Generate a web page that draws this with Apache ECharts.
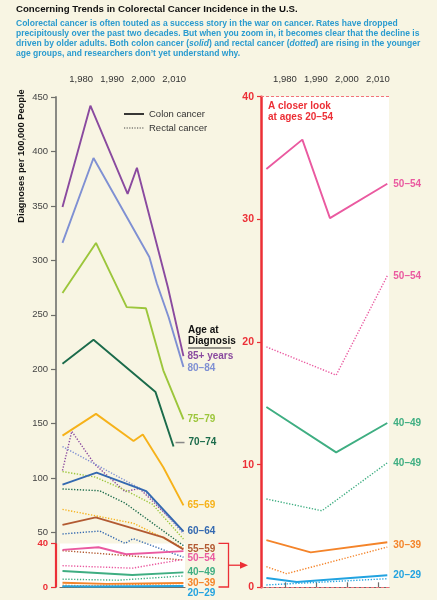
<!DOCTYPE html>
<html><head><meta charset="utf-8">
<script src="https://cdn.jsdelivr.net/npm/echarts@6/dist/echarts.min.js"></script>
<style>html,body{margin:0;padding:0;background:#f8f5e3;}#c{width:437px;height:600px;}</style>
</head><body><div id="c"></div>
<script>
// ---------- DATA ----------
const xTickYears = [1980, 1990, 2000, 2010];
const leftTickValues = [50, 100, 150, 200, 250, 300, 350, 400, 450];
const leftRedTicks = [0, 40];

// Colon cancer (solid)
const colonYears85 = [1974, 1983, 1995, 1998, 2008, 2013];
const colonRates85 = [349, 442, 361, 385, 275, 212];
const colonYears80 = [1974, 1984, 2002, 2004.4, 2008.2, 2013];
const colonRates80 = [316, 394, 303, 279, 248, 202];
const colonYears75 = [1974, 1984.8, 1994.7, 2000.9, 2006.5, 2013];
const colonRates75 = [270, 316, 257, 256, 199, 154];
const colonYears70 = [1974, 1984, 2004, 2009.8];
const colonRates70 = [205, 227, 179, 129];
const colonYears65 = [1974, 1984.8, 1996.9, 1999.9, 2006.5, 2013];
const colonRates65 = [139, 159, 134, 140, 110, 75];
const colonYears60 = [1974, 1985, 2001, 2013];
const colonRates60 = [94, 105, 88, 51];
const colonYears55 = [1974, 1984.7, 2006.5, 2013];
const colonRates55 = [57, 64, 45.6, 34.6];
const colonYears50 = [1974, 1985.6, 1994.5, 2013];
const colonRates50 = [34.1, 36.5, 30.1, 32.9];
const colonYears40 = [1974, 1996.5, 2013];
const colonRates40 = [14.7, 11.0, 13.4];
const colonYears30 = [1974, 1988.3, 2013];
const colonRates30 = [3.85, 2.85, 3.67];
const colonYears20 = [1974, 1983.8, 2013];
const colonRates20 = [0.76, 0.43, 0.98];

// Rectal cancer (dotted)
const rectalYears85 = [1974, 1977, 1984.3, 1994.2, 1998.8, 2013];
const rectalRates85 = [107, 143, 113, 87.5, 90.6, 51];
const rectalYears80 = [1974, 2000.6, 2013];
const rectalRates80 = [129, 88, 49];
const rectalYears75 = [1974, 1984.5, 1994.2, 2003, 2013];
const rectalRates75 = [106, 101, 89, 76, 44];
const rectalYears70 = [1974, 1986, 1994.2, 2013];
const rectalRates70 = [90, 88.4, 77, 38];
const rectalYears65 = [1974, 1984.5, 1996.9, 2013];
const rectalRates65 = [71.3, 65.5, 58.5, 36];
const rectalYears60 = [1974, 1986, 1994.2, 1996.8, 2013];
const rectalRates60 = [48.7, 51.4, 40.1, 44.4, 27.3];
const rectalYears55 = [1974, 2013];
const rectalRates55 = [33.4, 24.8];
const rectalYears50 = [1974, 1996.5, 2013];
const rectalRates50 = [19.6, 17.3, 25.4];
const rectalYears40 = [1974, 1991.9, 2013];
const rectalRates40 = [7.2, 6.24, 10.15];
const rectalYears30 = [1974, 1980.5, 2013];
const rectalRates30 = [1.68, 1.11, 3.28];
const rectalYears20 = [1974, 2013];
const rectalRates20 = [0.19, 0.7];

// ---------- STYLE ----------
const FONT = 'Liberation Sans, Arial, sans-serif';
const RED = '#ec2f36';
const C = {
  g85: '#8a4a9f', g80: '#7f90d3', g75: '#9cc63b', g70: '#1b6b4b', g65: '#f6b21a',
  g60: '#3469b0', g55: '#b25a32', g50: '#ea5aa0', g40: '#3fae82', g30: '#f4842a', g20: '#22a3e0'
};

function pts(xs, ys) { return xs.map((x, i) => [x, ys[i]]); }
function ln(xs, ys, color, dotted, gi, label) {
  const s = {
    type: 'line', xAxisIndex: gi === 0 ? 0 : 1, yAxisIndex: gi === 0 ? 0 : 2,
    data: pts(xs, ys), symbol: 'none', silent: true, z: dotted ? 3 : 4,
    lineStyle: { color: color, width: dotted ? 1.4 : 1.9, type: dotted ? [1.3, 1.6] : 'solid' }
  };
  if (label) {
    s.endLabel = {
      show: true, formatter: label.text, color: color, fontFamily: FONT, fontWeight: 'bold',
      fontSize: 10, distance: gi === 0 ? 4 : 6, offset: label.offset || [0, 0]
    };
  }
  return s;
}

const series = [
  {
    type: 'line', xAxisIndex: 0, yAxisIndex: 0, data: [], z: 1, silent: true,
    markArea: { silent: true, itemStyle: { color: '#ffffff' }, data: [[{ coord: [1973.2, 0] }, { coord: [2013.5, 40] }]] },
    markLine: {
      silent: true, symbol: 'none', label: { show: false },
      lineStyle: { color: '#f2737a', type: [3, 2], width: 1 },
      data: [[{ coord: [1973.2, 40] }, { coord: [2014, 40] }], [{ coord: [1973.2, 0] }, { coord: [2014, 0] }]]
    }
  },
  {
    type: 'line', xAxisIndex: 1, yAxisIndex: 2, data: [], z: 1, silent: true,
    markLine: {
      silent: true, symbol: 'none', label: { show: false },
      lineStyle: { color: '#f2737a', type: [3, 2], width: 1 },
      data: [{ yAxis: 40 }, { yAxis: 0 }]
    }
  },
  ln(rectalYears85, rectalRates85, C.g85, true, 0),
  ln(rectalYears80, rectalRates80, C.g80, true, 0),
  ln(rectalYears75, rectalRates75, C.g75, true, 0),
  ln(rectalYears70, rectalRates70, C.g70, true, 0),
  ln(rectalYears65, rectalRates65, C.g65, true, 0),
  ln(rectalYears60, rectalRates60, C.g60, true, 0),
  ln(rectalYears55, rectalRates55, C.g55, true, 0),
  ln(rectalYears50, rectalRates50, C.g50, true, 0),
  ln(rectalYears40, rectalRates40, C.g40, true, 0),
  ln(rectalYears30, rectalRates30, C.g30, true, 0),
  ln(rectalYears20, rectalRates20, C.g20, true, 0),
  ln(colonYears85, colonRates85, C.g85, false, 0, { text: '85+ years' }),
  ln(colonYears80, colonRates80, C.g80, false, 0, { text: '80–84', offset: [0, 1] }),
  ln(colonYears75, colonRates75, C.g75, false, 0, { text: '75–79' }),
  ln(colonYears70, colonRates70, C.g70, false, 0, { text: '70–74', offset: [11, -4] }),
  ln(colonYears65, colonRates65, C.g65, false, 0, { text: '65–69' }),
  ln(colonYears60, colonRates60, C.g60, false, 0, { text: '60–64' }),
  ln(colonYears55, colonRates55, C.g55, false, 0, { text: '55–59' }),
  ln(colonYears50, colonRates50, C.g50, false, 0, { text: '50–54', offset: [0, 7] }),
  ln(colonYears40, colonRates40, C.g40, false, 0, { text: '40–49' }),
  ln(colonYears30, colonRates30, C.g30, false, 0, { text: '30–39' }),
  ln(colonYears20, colonRates20, C.g20, false, 0, { text: '20–29', offset: [0, 7] }),
  ln(rectalYears50, rectalRates50, C.g50, true, 1, { text: '50–54' }),
  ln(rectalYears40, rectalRates40, C.g40, true, 1, { text: '40–49' }),
  ln(rectalYears30, rectalRates30, C.g30, true, 1),
  ln(rectalYears20, rectalRates20, C.g20, true, 1),
  ln(colonYears50, colonRates50, C.g50, false, 1, { text: '50–54' }),
  ln(colonYears40, colonRates40, C.g40, false, 1, { text: '40–49' }),
  ln(colonYears30, colonRates30, C.g30, false, 1, { text: '30–39', offset: [0, 3] }),
  ln(colonYears20, colonRates20, C.g20, false, 1, { text: '20–29' })
];

const cv = document.createElement('canvas').getContext('2d');
function fit(text, weight, target) {
  cv.font = weight + ' 100px ' + FONT;
  return 100 * target / cv.measureText(text).width;
}
const titleText = 'Concerning Trends in Colorectal Cancer Incidence in the U.S.';
const sub1 = 'Colorectal cancer is often touted as a success story in the war on cancer. Rates have dropped';
const sub2 = 'precipitously over the past two decades. But when you zoom in, it becomes clear that the decline is';
const sub3a = 'driven by older adults. Both colon cancer (', sub3b = 'solid', sub3c = ') and rectal cancer (', sub3d = 'dotted', sub3e = ') are rising in the younger';
const sub4 = 'age groups, and researchers don\u2019t yet understand why.';
const titleSize = fit(titleText, 'bold', 282);
const subSize = fit(sub2, 'bold', 404);
const BLUE = '#2a9bcf';
function subText(txt, y) {
  return { type: 'text', left: 16, top: y, silent: true,
    style: { text: txt, fill: BLUE, font: 'bold ' + subSize.toFixed(2) + 'px ' + FONT } };
}

const graphic = [
  { type: 'text', left: 16, top: 4, silent: true,
    style: { text: titleText, fill: '#111', font: 'bold ' + titleSize.toFixed(2) + 'px ' + FONT } },
  subText(sub1, 19.5),
  subText(sub2, 29.5),
  { type: 'text', left: 16, top: 39.5, silent: true,
    style: { text: sub3a + '{i|' + sub3b + '}' + sub3c + '{i|' + sub3d + '}' + sub3e, fill: BLUE,
      font: 'bold ' + subSize.toFixed(2) + 'px ' + FONT,
      rich: { i: { fill: BLUE, fontStyle: 'italic', fontWeight: 'bold', fontSize: subSize, fontFamily: FONT } } } },
  subText(sub4, 49.5),
  { type: 'text', x: 21.5, y: 156, rotation: Math.PI / 2, silent: true,
    style: { text: 'Diagnoses per 100,000 People', fill: '#111', font: 'bold 9.3px ' + FONT, align: 'center', verticalAlign: 'middle' } },
  { type: 'line', silent: true, shape: { x1: 124, y1: 114, x2: 144, y2: 114 }, style: { stroke: '#222', lineWidth: 1.8 } },
  { type: 'line', silent: true, shape: { x1: 124, y1: 128, x2: 144, y2: 128 }, style: { stroke: '#444', lineWidth: 1.2, lineDash: [1.2, 1.4] } },
  { type: 'text', x: 149, y: 114, silent: true, style: { text: 'Colon cancer', fill: '#333', font: '9.5px ' + FONT, verticalAlign: 'middle' } },
  { type: 'text', x: 149, y: 128.5, silent: true, style: { text: 'Rectal cancer', fill: '#333', font: '9.5px ' + FONT, verticalAlign: 'middle' } },
  { type: 'text', x: 188, y: 330, silent: true, style: { text: 'Age at', fill: '#111', font: 'bold 10px ' + FONT, verticalAlign: 'middle' } },
  { type: 'text', x: 188, y: 341, silent: true, style: { text: 'Diagnosis', fill: '#111', font: 'bold 10px ' + FONT, verticalAlign: 'middle' } },
  { type: 'line', silent: true, shape: { x1: 188, y1: 348, x2: 231, y2: 348 }, style: { stroke: '#333', lineWidth: 1.2 } },
  { type: 'text', x: 268, y: 106, silent: true, style: { text: 'A closer look', fill: RED, font: 'bold 10px ' + FONT, verticalAlign: 'middle' } },
  { type: 'text', x: 268, y: 117.5, silent: true, style: { text: 'at ages 20–54', fill: RED, font: 'bold 10px ' + FONT, verticalAlign: 'middle' } }
];

const xAxisCommon = (gi, min, max, offset) => ({
  type: 'value', gridIndex: gi, position: 'top', offset: offset, min: min, max: max,
  axisLine: { show: true, lineStyle: { color: '#6f6f6a', width: 1.2 } },
  axisTick: { show: true, customValues: xTickYears, length: 5, lineStyle: { color: '#6f6f6a', width: 1.2 } },
  axisLabel: { customValues: xTickYears, fontSize: 9.5, color: '#333', fontFamily: FONT, margin: 6 },
  splitLine: { show: false }
});

const option = {
  animation: false,
  backgroundColor: '#f8f5e3',
  grid: [
    { left: 60, top: 97, width: 125, height: 490 },
    { left: 261, top: 96.7, width: 128, height: 490.6, show: true, backgroundColor: '#ffffff', borderWidth: 0 }
  ],
  xAxis: [
    xAxisCommon(0, 1973.2, 2013.5, 7),
    xAxisCommon(1, 1972.26, 2013.55, 6.7)
  ],
  yAxis: [
    { type: 'value', gridIndex: 0, min: 0, max: 450, offset: 4,
      axisLine: { show: true, lineStyle: { color: '#8a8a84', width: 2 } },
      axisTick: { show: true, customValues: leftTickValues, length: 5, lineStyle: { color: '#6f6f6a', width: 1.2 } },
      axisLabel: { customValues: leftTickValues, fontSize: 9.5, color: '#444', fontFamily: FONT, margin: 8 },
      splitLine: { show: false } },
    { type: 'value', gridIndex: 0, min: 0, max: 450, offset: 4, position: 'left',
      axisLine: { show: false },
      axisTick: { show: true, customValues: leftRedTicks, length: 5, lineStyle: { color: RED, width: 1.2 } },
      axisLabel: { customValues: leftRedTicks, fontSize: 9.5, color: RED, fontWeight: 'bold', fontFamily: FONT, margin: 8 },
      splitLine: { show: false } },
    { type: 'value', gridIndex: 1, min: 0, max: 40, interval: 10,
      axisLine: { show: true, lineStyle: { color: RED, width: 2.5 } },
      axisTick: { show: true, length: 4, lineStyle: { color: RED, width: 1.2 } },
      axisLabel: { fontSize: 10.5, color: RED, fontWeight: 'bold', fontFamily: FONT, margin: 7 },
      splitLine: { show: false } }
  ],
  graphic: graphic,
  series: series
};

const chart = echarts.init(document.getElementById('c'), null, { renderer: 'canvas' });
chart.setOption(option);

const pAxis0 = chart.convertToPixel({ gridIndex: 0 }, [1973.2, 0]);
const pAxis40 = chart.convertToPixel({ gridIndex: 0 }, [1973.2, 40]);
const axisX = pAxis0[0] - 4;
const p70 = chart.convertToPixel({ gridIndex: 0 }, [colonYears70[colonYears70.length - 1], colonRates70[colonRates70.length - 1]]);
const bx = 228.5, midY = (pAxis0[1] + pAxis40[1]) / 2;
chart.setOption({
  graphic: graphic.concat([
    { type: 'line', silent: true, z: 50, shape: { x1: axisX, y1: pAxis40[1], x2: axisX, y2: pAxis0[1] }, style: { stroke: RED, lineWidth: 2.2 } },
    { type: 'line', silent: true, z: 50, shape: { x1: p70[0] + 2, y1: p70[1] - 4, x2: p70[0] + 11, y2: p70[1] - 4 }, style: { stroke: '#888', lineWidth: 1.5 } },
    { type: 'polyline', silent: true, z: 50, shape: { points: [[bx - 10, pAxis40[1]], [bx, pAxis40[1]], [bx, pAxis0[1]], [bx - 10, pAxis0[1]]] }, style: { stroke: RED, lineWidth: 1.3, fill: null } },
    { type: 'line', silent: true, z: 50, shape: { x1: bx, y1: midY, x2: 242, y2: midY }, style: { stroke: RED, lineWidth: 1.3 } },
    { type: 'polygon', silent: true, z: 50, shape: { points: [[240, midY - 3.5], [248, midY], [240, midY + 3.5]] }, style: { fill: RED } }
  ])
});
</script>
</body></html>
